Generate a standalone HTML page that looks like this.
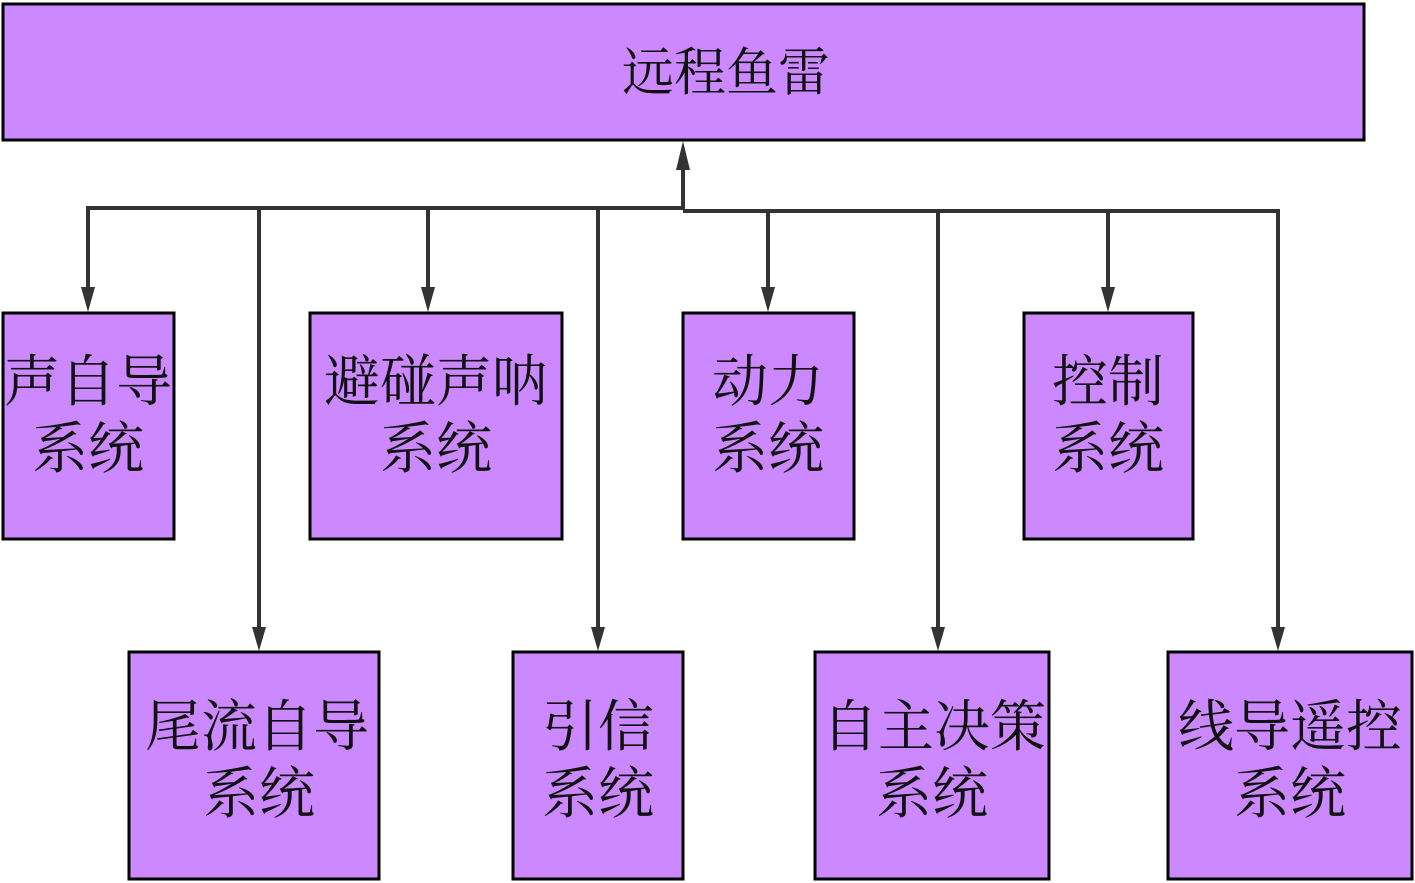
<!DOCTYPE html>
<html><head><meta charset="utf-8"><style>
html,body{margin:0;padding:0;background:#fff;}
svg{display:block;}
text{font-family:"Liberation Serif","Noto Serif CJK SC",serif;fill:#111;text-anchor:middle;dominant-baseline:central;}
</style></head><body>
<svg width="1415" height="883" viewBox="0 0 1415 883" xmlns="http://www.w3.org/2000/svg">
<defs>
<marker id="a" markerWidth="10" markerHeight="10" refX="5" refY="9" orient="auto" markerUnits="userSpaceOnUse" viewBox="0 0 10 10">
</marker>
</defs>
<g fill="#cc88ff" stroke="#000" stroke-width="3">
<rect x="3" y="4" width="1361" height="136"/>
<rect x="3" y="313" width="171" height="226"/>
<rect x="310" y="313" width="252" height="226"/>
<rect x="683" y="313" width="171" height="226"/>
<rect x="1024" y="313" width="169" height="226"/>
<rect x="129" y="652" width="250" height="227"/>
<rect x="513" y="652" width="170" height="227"/>
<rect x="815" y="652" width="234" height="227"/>
<rect x="1168" y="652" width="244" height="227"/>
</g>
<g stroke="#333" stroke-width="4" fill="none">
<line x1="683" y1="210" x2="683" y2="160"/>
<polyline points="88,292 88,208 683,208"/>
<polyline points="683,211 1278,211 1278,632"/>
<line x1="428" y1="208" x2="428" y2="292"/>
<line x1="768" y1="211" x2="768" y2="292"/>
<line x1="1108" y1="211" x2="1108" y2="292"/>
<line x1="259" y1="208" x2="259" y2="632"/>
<line x1="598" y1="208" x2="598" y2="632"/>
<line x1="938" y1="211" x2="938" y2="632"/>
</g>
<g fill="#333">
<polygon points="676,170 690,170 683,141"/>
<polygon points="81,287 95,287 88,312"/>
<polygon points="421,287 435,287 428,312"/>
<polygon points="761,287 775,287 768,312"/>
<polygon points="1101,287 1115,287 1108,312"/>
<polygon points="252,627 266,627 259,651"/>
<polygon points="591,627 605,627 598,651"/>
<polygon points="931,627 945,627 938,651"/>
<polygon points="1271,627 1285,627 1278,651"/>
</g>
<text x="726" y="74" font-size="52">远程鱼雷</text>
<g font-size="56">
<text x="88" y="383">声自导</text><text x="88" y="450">系统</text>
<text x="436" y="383">避碰声呐</text><text x="436" y="450">系统</text>
<text x="768" y="383">动力</text><text x="768" y="450">系统</text>
<text x="1108" y="383">控制</text><text x="1108" y="450">系统</text>
<text x="257" y="728">尾流自导</text><text x="259" y="795">系统</text>
<text x="598" y="728">引信</text><text x="598" y="795">系统</text>
<text x="934" y="728">自主决策</text><text x="932" y="795">系统</text>
<text x="1290" y="728">线导遥控</text><text x="1290" y="795">系统</text>
</g>
</svg>
</body></html>
